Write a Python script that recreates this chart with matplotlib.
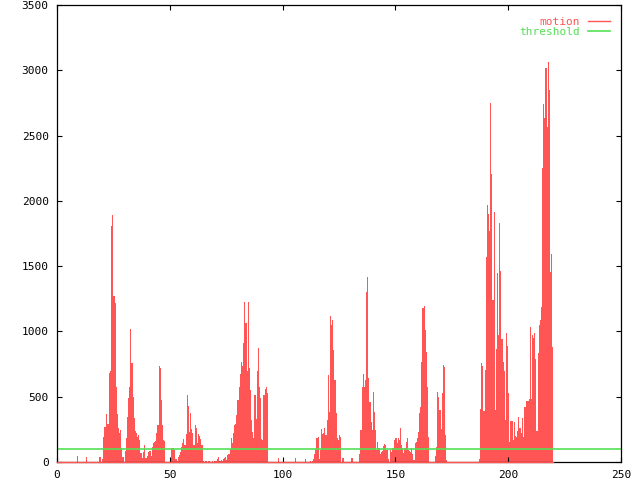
import numpy as np
import matplotlib
matplotlib.use('Agg')
import matplotlib.pyplot as plt

# motion: one value every 0.5 on x, one row = 10 units of x
motion = [
    0, 0, 0, 0, 0, 0, 0, 0, 0, 0, 0, 0, 0, 0, 0, 0, 0, 0, 43, 0,                      # 0
    0, 0, 0, 0, 0, 0, 40, 0, 0, 0, 0, 0, 0, 0, 0, 0, 0, 40, 40, 0,                    # 10
    20, 190, 270, 365, 290, 290, 680, 700, 1810, 1890,
    1270, 1215, 575, 370, 258, 220, 245, 105, 40, 0,                                  # 20
    87, 180, 347, 488, 577, 1020, 756, 500, 335, 240,
    220, 194, 207, 168, 71, 33, 79, 130, 28, 33,                                      # 30
    46, 80, 84, 46, 117, 143, 156, 158, 220, 286,
    735, 717, 475, 283, 168, 161, 0, 0, 0, 0,                                         # 40
    0, 105, 105, 105, 92, 20, 10, 35, 50, 79,
    117, 148, 174, 130, 214, 513, 429, 232, 378, 250,                                 # 50
    225, 130, 283, 258, 143, 214, 199, 176, 130, 5,
    0, 8, 8, 0, 8, 8, 0, 8, 0, 5,                                                     # 60
    5, 8, 20, 41, 8, 15, 8, 23, 28, 41,
    15, 54, 61, 97, 181, 143, 220, 281, 291, 360,                                     # 70
    475, 577, 674, 768, 735, 909, 1228, 1062, 700, 1228,
    717, 551, 322, 230, 181, 513, 330, 700, 870, 577,                                 # 80
    488, 174, 168, 513, 560, 577, 531, 0, 0, 0,
    0, 0, 0, 0, 0, 0, 33, 0, 0, 0,                                                    # 90
    0, 0, 0, 0, 0, 0, 0, 0, 0, 0, 0, 28, 0, 0, 0, 0, 0, 0, 0, 0,                      # 100
    20, 0, 0, 0, 10, 0, 10, 20, 61, 97,
    181, 189, 20, 92, 250, 214, 220, 258, 207, 322,                                   # 110
    666, 386, 1118, 1049, 1088, 858, 628, 373, 181, 168,
    207, 194, 0, 28, 0, 0, 0, 0, 0, 0,                                                # 120
    0, 28, 0, 0, 0, 0, 0, 0, 60, 245,
    577, 674, 577, 628, 1305, 1414, 641, 462, 309, 245,                               # 130
    539, 386, 245, 92, 156, 105, 61, 79, 84, 125,
    135, 130, 92, 20, 0, 92, 79, 105, 105, 168,                                       # 140
    181, 143, 181, 168, 258, 130, 105, 66, 105, 156,
    181, 92, 84, 79, 105, 61, 15, 143, 156, 181,                                      # 150
    232, 373, 424, 768, 1177, 1195, 1011, 845, 577, 194,
    0, 0, 0, 0, 0, 46, 117, 539, 500, 398,                                            # 160
    250, 526, 743, 730, 207, 15, 0, 0, 0, 0, 0, 0, 0, 0, 0, 0, 0, 0, 0, 0,            # 170
    0, 0, 0, 0, 0, 0, 0, 0, 0, 0,
    0, 0, 0, 0, 20, 406, 761, 735, 391, 705,                                          # 180
    1568, 1968, 1900, 1769, 2752, 2206, 1241, 1912, 398, 863,
    1445, 973, 1828, 1466, 942, 768, 697, 322, 985, 891,                              # 190
    531, 156, 314, 314, 168, 309, 199, 194, 240, 347,
    263, 225, 334, 194, 424, 424, 467, 467, 480, 1031,                                # 200
    485, 973, 947, 991, 786, 240, 832, 1049, 1088, 1190,
    2249, 2742, 2637, 3015, 2568, 3066, 2850, 1458, 1593, 883,                        # 210
]
step = 0.5
threshold = 100

x_ticks = [0, 50, 100, 150, 200, 250]
y_ticks = [0, 500, 1000, 1500, 2000, 2500, 3000, 3500]

red = '#ff5555'
green = '#55e055'

plt.rcParams['font.family'] = 'DejaVu Sans Mono'

fig = plt.figure(figsize=(6.4, 4.8), dpi=100)
ax = fig.add_axes([57 / 640, 18 / 480, 564 / 640, 457 / 480])

edges = np.arange(len(motion) + 1) * step
ax.stairs(motion, edges, fill=True, color=red, linewidth=0)
# boxes with zero height still leave a line on the baseline
ax.plot([edges[0], edges[-1]], [0, 0], color=red, lw=1, zorder=3,
        clip_on=False, label='motion')
ax.axhline(threshold, color=green, lw=1.2, label='threshold')

ax.set_xlim(0, 250)
ax.set_ylim(0, 3500)
ax.set_xticks(x_ticks)
ax.set_yticks(y_ticks)
ax.tick_params(direction='in', length=3.6, width=0.8, top=True, right=True,
               labelsize=8, pad=6)
for s in ax.spines.values():
    s.set_linewidth(0.9)

ax.legend(loc='upper right', bbox_to_anchor=(0.9805, 0.973), frameon=False,
          markerfirst=False, fontsize=8, handlelength=2.0, handletextpad=0.7,
          labelspacing=0.0, borderaxespad=0, borderpad=0, labelcolor='linecolor')

fig.savefig('out.png', dpi=100)
